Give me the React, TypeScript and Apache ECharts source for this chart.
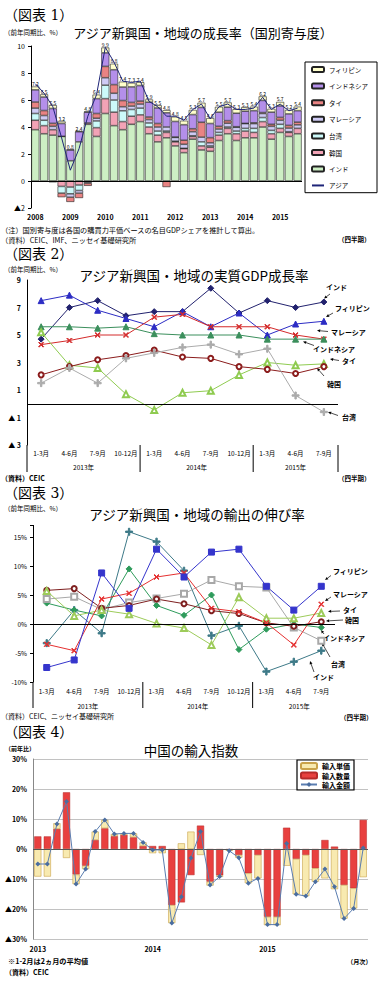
import React, { useEffect, useRef } from 'react';
import * as echarts from 'echarts';

// ---------------- Chart 1 data (quarterly contributions, %pt) ----------------
const years1 = ['2008', '2009', '2010', '2011', '2012', '2013', '2014', '2015'];
const india1 = [3.8, 3.5, 3.4, 3.3, 1.5, 2.9, 4.2, 3.3, 5.0, 4.1, 3.8, 4.2, 4.4, 3.5, 2.9, 3.2, 2.6, 2.1, 3.1, 2.3, 2.2, 3.0, 3.5, 3.0, 3.2, 3.2, 4.0, 3.1, 3.6, 3.3, 3.5];
const korea1 = [0.7, 0.6, 0.4, -0.4, -0.45, -0.3, 0.1, 0.65, 1.1, 1.0, 0.6, 0.6, 0.5, 0.5, 0.5, 0.4, 0.3, 0.3, 0.2, 0.3, 0.3, 0.4, 0.4, 0.5, 0.5, 0.4, 0.4, 0.4, 0.3, 0.3, 0.4];
const taiwan1 = [0.5, 0.4, -0.1, -0.5, -0.5, -0.4, -0.1, 0.5, 1.0, 0.9, 0.8, 0.5, 0.5, 0.3, 0.3, 0.1, 0.05, 0.02, 0.05, 0.3, 0.1, 0.2, 0.1, 0.2, 0.2, 0.3, 0.3, 0.25, 0.3, 0.05, -0.05];
const malaysia1 = [0.4, 0.35, 0.25, 0.01, -0.25, -0.2, -0.07, 0.2, 0.55, 0.5, 0.3, 0.25, 0.3, 0.25, 0.3, 0.3, 0.28, 0.3, 0.3, 0.35, 0.23, 0.25, 0.28, 0.28, 0.35, 0.35, 0.3, 0.3, 0.3, 0.27, 0.26];
const thai1 = [0.45, 0.37, 0.22, -0.3, -0.35, -0.36, -0.19, 0.35, 0.84, 0.64, 0.46, 0.27, 0.22, 0.19, 0.26, -0.45, 0.03, 0.3, 0.22, 1.1, 0.38, 0.2, 0.19, 0.04, 0.02, 0.06, 0.07, 0.15, 0.21, 0.2, 0.2];
const indonesia1 = [0.9, 1.0, 1.1, 0.95, 0.8, 0.75, 0.8, 1.1, 1.0, 1.1, 1.0, 1.15, 1.15, 1.1, 1.15, 1.05, 1.15, 1.15, 1.05, 1.1, 1.05, 1.05, 1.0, 1.0, 0.9, 0.9, 0.9, 0.9, 0.85, 0.85, 0.85];
const phil1 = [0.25, 0.2, 0.25, 0.15, 0.03, 0.05, 0.05, 0.3, 0.4, 0.45, 0.4, 0.3, 0.25, 0.2, 0.2, 0.2, 0.35, 0.3, 0.35, 0.35, 0.4, 0.4, 0.35, 0.3, 0.3, 0.3, 0.3, 0.25, 0.3, 0.3, 0.3];
const asia1 = [7.2, 6.5, 5.5, 3.2, 0.8, 2.4, 4.8, 6.4, 9.9, 8.8, 7.4, 7.3, 7.4, 5.9, 5.5, 4.8, 4.8, 4.5, 5.3, 5.7, 4.6, 5.5, 5.7, 5.3, 5.3, 5.4, 6.2, 5.3, 5.7, 5.2, 5.4];
const legend1 = ['フィリピン', 'インドネシア', 'タイ', 'マレーシア', '台湾', '韓国', 'インド', 'アジア'];

// ---------------- Chart 2 & 3 categories ----------------
const quarterNames = ['1-3月', '4-6月', '7-9月', '10-12月'];
const yearGroups = ['2013年', '2014年', '2015年'];

// ---------------- Chart 2 data (real GDP growth, %) ----------------
const india2 = [4.7, 7.0, 7.5, 6.4, 6.7, 6.7, 8.4, 6.6, 7.5, 7.0, 7.4];
const phil2 = [7.5, 7.9, 6.8, 6.2, 5.6, 6.7, 5.6, 6.6, 5.0, 5.8, 6.0];
const malaysia2 = [4.3, 4.6, 5.0, 5.0, 6.3, 6.5, 5.6, 5.6, 5.6, 5.0, 4.7];
const indonesia2 = [5.6, 5.6, 5.5, 5.6, 5.1, 5.0, 5.0, 5.0, 4.7, 4.7, 4.7];
const thai2 = [5.2, 2.8, 2.6, 0.7, -0.45, 0.8, 0.95, 2.1, 3.0, 2.8, 2.9];
const korea2 = [2.1, 2.7, 3.2, 3.5, 3.9, 3.4, 3.3, 2.7, 2.5, 2.2, 2.7];
const taiwan2 = [1.5, 2.6, 1.5, 3.3, 3.7, 4.1, 4.3, 3.6, 4.0, 0.6, -0.6];

// ---------------- Chart 3 data (export growth, %) ----------------
const phil3 = [-7.5, -6.2, 8.8, 2.7, 12.9, 8.1, 12.4, 12.9, 6.5, 2.4, 6.5];
const malaysia3 = [-3.5, -4.6, 4.3, 5.3, 8.1, 8.8, 2.7, 2.1, 0.2, -3.6, 3.4];
const thai3 = [5.7, 1.4, 2.4, 1.7, 0.1, -0.7, -3.6, 4.6, 1.0, 1.0, 1.9];
const korea3 = [5.8, 6.1, 2.7, 3.2, 4.3, 3.5, 2.3, 1.8, 0.2, -0.4, 0.4];
const taiwan3 = [4.3, 4.7, 2.5, 3.7, 4.4, 5.2, 7.6, 6.5, 6.3, -0.6, -2.9];
const indonesia3 = [3.6, 2.4, 1.4, 9.5, 3.2, 1.5, 5.0, -4.4, -0.9, 0.0, -0.6];
const india3 = [-3.3, 2.4, -1.6, 15.9, 14.2, 9.2, -2.0, -0.3, -8.2, -6.5, -4.6];

// ---------------- Chart 4 data (China import index, y/y %) ----------------
const monthYears = ['2013', '2014', '2015'];
const volume4 = [4.2, 4.2, 6.7, 18.9, -8.5, -5.6, 3.0, 6.9, 4.3, 4.7, 3.9, 1.0, 1.0, 1.0, -18.7, -17.8, -8.7, 7.8, -10.9, -8.8, -0.3, -2.0, -8.1, -2.0, -22.6, -22.6, 7.1, -3.3, -2.0, -6.4, 3.0, 0.8, -12.0, -13.1, 9.7];
const price4 = [-9.2, -9.2, 1.9, -3.0, -3.2, -1.1, 2.8, 2.8, 0.7, 0.5, 1.3, 1.2, -1.4, -1.4, -6.0, 1.9, 5.8, -2.0, -1.3, -0.5, -0.3, -0.9, -3.3, -7.8, -2.8, -2.8, -5.6, -11.8, -13.7, -4.5, -9.8, -13.4, -11.2, -6.7, -9.4];
const value4 = [-5.0, -5.0, 8.3, 15.8, -11.7, -6.7, 5.8, 9.7, 5.0, 5.2, 5.2, 2.2, -0.3, -0.3, -24.7, -15.9, -3.0, 5.8, -12.0, -9.2, -0.6, -2.9, -11.4, -9.8, -25.2, -25.2, 1.8, -15.1, -15.7, -10.9, -6.7, -12.6, -23.2, -19.8, 0.3];
const legend4 = ['輸入単価', '輸入数量', '輸入金額'];

const FONT = "'Noto Sans CJK JP', 'Noto Sans', sans-serif";
const SERIF = "'DejaVu Serif', 'Liberation Serif', 'Noto Sans CJK JP', serif";

const G1 = { left: 31, top: 46, width: 271, height: 162 };
const G2 = { left: 27, top: 280, width: 311, height: 165 };
const G3 = { left: 33, top: 525.4, width: 302, height: 156.6 };
const G4 = { left: 33, top: 759, width: 335, height: 180 };

const XMARK = 'path://M1,0L5,4L9,0L10,1L6,5L10,9L9,10L5,6L1,10L0,9L4,5L0,1Z';
const PLUS = 'path://M4,0H6V4H10V6H6V10H4V6H0V4H4Z';

function txt(text: string, x: number, y: number, size: number, o: any = {}) {
  return {
    type: 'text', x, y, silent: true,
    style: {
      text, fontSize: size, fontFamily: o.family || FONT, fontWeight: o.weight || 'normal',
      fill: '#000', textAlign: o.align || 'left', textVerticalAlign: 'middle',
    },
  };
}

function arrow(x1: number, y1: number, x2: number, y2: number) {
  const dx = x2 - x1, dy = y2 - y1;
  const len = Math.hypot(dx, dy) || 1;
  const ux = dx / len, uy = dy / len;
  const L = 3.2, W = 1.5;
  const bx = x2 - ux * L, by = y2 - uy * L;
  return [
    { type: 'line', silent: true, shape: { x1, y1, x2: bx, y2: by }, style: { stroke: '#000', lineWidth: 0.7 } },
    { type: 'polygon', silent: true, shape: { points: [[x2, y2], [bx - uy * W, by + ux * W], [bx + uy * W, by - ux * W]] }, style: { fill: '#000' } },
  ];
}

function vline(x: number, y1: number, y2: number) {
  return { type: 'line', silent: true, shape: { x1: x, y1, x2: x, y2 }, style: { stroke: '#000', lineWidth: 1 } };
}

function buildOption() {
  const quarters1: string[] = [];
  years1.forEach((y) => [1, 2, 3, 4].forEach((q) => { if (quarters1.length < india1.length) quarters1.push(`${y}Q${q}`); }));
  const periods: string[] = [];
  yearGroups.forEach((y) => quarterNames.forEach((q) => { if (periods.length < india2.length) periods.push(`${y} ${q}`); }));
  const months: string[] = [];
  monthYears.forEach((y) => { for (let m = 1; m <= 12; m++) if (months.length < value4.length) months.push(`${y}/${m}`); });

  const zeroLine = (color: string) => ({
    silent: true, symbol: ['none', 'none'], label: { show: false },
    lineStyle: { color, width: 1, type: 'solid' }, data: [{ yAxis: 0 }],
  });

  const bar1 = (name: string, data: number[], color: string, extra: any = {}) => ({
    type: 'bar', name, data, stack: 'c1', xAxisIndex: 0, yAxisIndex: 0,
    barCategoryGap: '8%',
    itemStyle: { color, borderColor: '#222', borderWidth: 0.6 },
    ...extra,
  });

  const line = (name: string, data: number[], color: string, symbol: string, size: number, ax: number) => ({
    type: 'line', name, data, xAxisIndex: ax, yAxisIndex: ax, symbol, symbolSize: size,
    lineStyle: { color, width: 1 }, itemStyle: { color, borderColor: color, borderWidth: 1 }, z: 3,
  });

  const series: any[] = [
    bar1('インド', india1, '#CDEFC4'),
    bar1('韓国', korea1, '#F2A3B6'),
    bar1('台湾', taiwan1, '#CCFAFA'),
    bar1('マレーシア', malaysia1, '#CFCBF5'),
    bar1('タイ', thai1, '#E98383'),
    bar1('インドネシア', indonesia1, '#B48FEA'),
    bar1('フィリピン', phil1, '#FFFFCC', {
      label: {
        show: true, position: 'top', distance: 0.5, fontSize: 5, color: '#000', fontFamily: FONT,
        formatter: (p: any) => asia1[p.dataIndex].toFixed(1),
      },
    }),
    {
      type: 'line', name: 'アジア', data: asia1, xAxisIndex: 0, yAxisIndex: 0, symbol: 'none',
      lineStyle: { color: '#1E2478', width: 1 }, itemStyle: { color: '#1E2478' }, z: 5,
      markLine: zeroLine('#000'),
    },
    // chart 2
    { ...line('インド', india2, '#22226E', 'diamond', 6, 1), markLine: zeroLine('#000') },
    line('フィリピン', phil2, '#2C2CC4', 'triangle', 6, 1),
    line('マレーシア', malaysia2, '#D42A2A', XMARK, 5, 1),
    line('インドネシア', indonesia2, '#3B8F5C', 'triangle', 6, 1),
    line('タイ', thai2, '#8FCB50', 'emptyTriangle', 6, 1),
    line('韓国', korea2, '#8B1C1C', 'emptyCircle', 5, 1),
    line('台湾', taiwan2, '#ABABAB', PLUS, 7, 1),
    // chart 3
    { ...line('インド', india3, '#3E7A88', PLUS, 7, 2), markLine: zeroLine('#000') },
    line('インドネシア', indonesia3, '#2E9B5B', 'diamond', 6, 2),
    line('台湾', taiwan3, '#A8A8A8', 'emptyRect', 6, 2),
    line('韓国', korea3, '#7E1F1F', 'emptyCircle', 5, 2),
    line('タイ', thai3, '#9DCB5A', 'emptyTriangle', 6, 2),
    line('マレーシア', malaysia3, '#E53030', XMARK, 5, 2),
    line('フィリピン', phil3, '#3535CC', 'rect', 6, 2),
    // chart 4
    {
      type: 'bar', name: '輸入数量', data: volume4, stack: 'c4', xAxisIndex: 3, yAxisIndex: 3,
      barCategoryGap: '25%', itemStyle: { color: '#E8403F', borderColor: '#B52A2A', borderWidth: 0.5 },
    },
    {
      type: 'bar', name: '輸入単価', data: price4, stack: 'c4', xAxisIndex: 3, yAxisIndex: 3,
      barCategoryGap: '25%', itemStyle: { color: '#F8EAB0', borderColor: '#C9A24A', borderWidth: 0.6 },
    },
    {
      type: 'line', name: '輸入金額', data: value4, xAxisIndex: 3, yAxisIndex: 3, symbol: 'diamond', symbolSize: 5,
      lineStyle: { color: '#5A7DB0', width: 1 }, itemStyle: { color: '#4A6DA0' }, z: 5,
      markLine: zeroLine('#555'),
    },
  ];

  const baseLabel = { color: '#000', fontFamily: FONT };
  const xAxis: any[] = [
    {
      type: 'category', gridIndex: 0, data: quarters1, axisLine: { show: false }, axisTick: { show: false },
      axisLabel: { ...baseLabel, interval: 0, fontSize: 7, fontWeight: 'bold', margin: 5, formatter: (v: string) => (v.endsWith('Q1') ? v.slice(0, 4) : '') },
    },
    {
      type: 'category', gridIndex: 1, data: periods, axisLine: { show: false }, axisTick: { show: false },
      axisLabel: { ...baseLabel, interval: 0, fontSize: 6.5, margin: 5, formatter: (v: string) => v.split(' ')[1] },
    },
    {
      type: 'category', gridIndex: 2, data: periods, axisLine: { show: false }, axisTick: { show: false },
      axisLabel: { ...baseLabel, interval: 0, fontSize: 6.5, margin: 6, formatter: (v: string) => v.split(' ')[1] },
    },
    {
      type: 'category', gridIndex: 3, data: months, axisLine: { show: false }, axisTick: { show: false },
      axisLabel: { ...baseLabel, interval: 0, fontSize: 7, fontWeight: 'bold', margin: 6, formatter: (v: string) => (v.endsWith('/1') ? v.split('/')[0] : '') },
    },
  ];
  const yAxis: any[] = [
    {
      type: 'value', gridIndex: 0, min: -2, max: 10, interval: 2,
      axisLine: { show: true, lineStyle: { color: '#000' } }, axisTick: { show: true, length: 3, lineStyle: { color: '#000' } },
      splitLine: { show: false },
      axisLabel: { ...baseLabel, fontSize: 7, margin: 6, formatter: (v: number) => (v < 0 ? '▲' + -v : String(v)) },
    },
    {
      type: 'value', gridIndex: 1, min: -3, max: 9, interval: 1,
      axisLine: { show: true, lineStyle: { color: '#000' } }, axisTick: { show: false }, splitLine: { show: false },
      axisLabel: {
        ...baseLabel, fontSize: 7, fontWeight: 'bold', margin: 6,
        formatter: (v: number) => (Math.abs(v) % 2 === 1 ? (v < 0 ? '▲ ' + -v : String(v)) : ''),
      },
    },
    {
      type: 'value', gridIndex: 2, min: -10, max: 17, interval: 5,
      axisLine: { show: true, lineStyle: { color: '#000' } }, axisTick: { show: true, length: 3, lineStyle: { color: '#000' } },
      splitLine: { show: false },
      axisLabel: { ...baseLabel, fontSize: 6.5, margin: 6, formatter: (v: number) => (v % 5 === 0 ? v + '%' : '') },
    },
    {
      type: 'value', gridIndex: 3, min: -30, max: 30, interval: 10,
      axisLine: { show: true, lineStyle: { color: '#888' } }, axisTick: { show: false },
      splitLine: { show: true, lineStyle: { color: '#C2C2C2', width: 1 } },
      axisLabel: { ...baseLabel, fontSize: 7, fontWeight: 'bold', margin: 6, formatter: (v: number) => (v < 0 ? '▲' + -v + '%' : v + '%') },
    },
  ];

  const b2 = G2.top + G2.height;
  const b3 = G3.top + G3.height;
  const graphic: any[] = [
    // chart 1 texts
    txt('（図表 1）', 4, 15, 14, { family: SERIF }),
    txt('（前年同期比、%）', 4, 31.5, 6.5),
    txt('アジア新興国・地域の成長率（国別寄与度）', 203, 32.5, 13, { align: 'center' }),
    txt('（注）国別寄与度は各国の購買力平価ベースの名目GDPシェアを推計して算出。', 1, 230, 7.2),
    txt('（資料）CEIC、IMF、ニッセイ基礎研究所', 1, 240, 7.2),
    txt('（四半期）', 338, 239, 6.5, { weight: 'bold' }),
    // chart 2 texts
    txt('（図表 2）', 4, 254, 14, { family: SERIF }),
    txt('（前年同期比、%）', 4, 268.5, 6.5),
    txt('アジア新興国・地域の実質GDP成長率', 194, 274.5, 13.5, { align: 'center' }),
    txt('2013年', G2.left + (2 * G2.width) / 11, 467, 6.5, { align: 'center' }),
    txt('2014年', G2.left + (6 * G2.width) / 11, 467, 6.5, { align: 'center' }),
    txt('2015年', G2.left + (9.5 * G2.width) / 11, 467, 6.5, { align: 'center' }),
    vline(G2.left, b2, b2 + 27),
    vline(G2.left + (4 * G2.width) / 11, b2, b2 + 27),
    vline(G2.left + (8 * G2.width) / 11, b2, b2 + 27),
    vline(G2.left + G2.width, b2, b2 + 27),
    txt('（資料）CEIC', 1, 478, 7, { weight: 'bold' }),
    txt('（四半期）', 338, 478, 6.5, { weight: 'bold' }),
    txt('インド', 326, 286.5, 7, { weight: 'bold' }),
    ...arrow(330, 294, 324, 298.5),
    txt('フィリピン', 335, 308, 7, { weight: 'bold' }),
    ...arrow(333, 313, 326, 317),
    txt('マレーシア', 331, 332, 7, { weight: 'bold' }),
    ...arrow(328, 331.5, 317, 330.5),
    txt('インドネシア', 313, 348.5, 7, { weight: 'bold' }),
    ...arrow(314, 345.5, 303, 341.5),
    txt('タイ', 342, 361, 7, { weight: 'bold' }),
    ...arrow(339, 360.5, 330, 359),
    txt('韓国', 327, 383.5, 7, { weight: 'bold' }),
    ...arrow(324, 376, 317, 368),
    txt('台湾', 342, 417, 7, { weight: 'bold' }),
    ...arrow(338, 415.5, 328, 412),
    // chart 3 texts
    txt('（図表 3）', 4, 493, 14, { family: SERIF }),
    txt('（前年同期比、%）', 4, 508, 6.5),
    txt('アジア新興国・地域の輸出の伸び率', 197, 513.5, 13.5, { align: 'center' }),
    txt('2013年', G3.left + (2 * G3.width) / 11, 706, 6.5, { align: 'center' }),
    txt('2014年', G3.left + (6 * G3.width) / 11, 706, 6.5, { align: 'center' }),
    txt('2015年', G3.left + (9.7 * G3.width) / 11, 706, 6.5, { align: 'center' }),
    vline(G3.left, b3, b3 + 26),
    vline(G3.left + (4 * G3.width) / 11, b3, b3 + 26),
    vline(G3.left + (8 * G3.width) / 11, b3, b3 + 26),
    txt('フィリピン', 333, 571, 7, { weight: 'bold' }),
    ...arrow(331, 575.5, 325, 580),
    txt('マレーシア', 333, 594, 7, { weight: 'bold' }),
    ...arrow(331, 597, 325, 601),
    txt('タイ', 343, 609.5, 7, { weight: 'bold' }),
    ...arrow(340, 611, 328, 611.5),
    txt('韓国', 345, 620, 7, { weight: 'bold' }),
    ...arrow(343, 620, 326, 621),
    txt('インドネシア', 323, 637.5, 7, { weight: 'bold' }),
    ...arrow(324, 634, 321, 630),
    txt('台湾', 331, 663.5, 7, { weight: 'bold' }),
    ...arrow(330, 657, 322, 643),
    txt('インド', 313, 677, 7, { weight: 'bold' }),
    ...arrow(314, 672, 310, 661),
    txt('（資料）CEIC、ニッセイ基礎研究所', 1, 716, 7),
    txt('（四半期）', 340, 717, 6.5, { weight: 'bold' }),
    // chart 4 texts
    txt('（図表 4）', 4, 732, 14, { family: SERIF }),
    txt('（前年比）', 5, 748, 6, { weight: 'bold' }),
    txt('中国の輸入指数', 191, 749.5, 13.5, { align: 'center' }),
    txt('※1-2月は2ヵ月の平均値', 8, 961, 7.2, { weight: 'bold' }),
    txt('（資料）CEIC', 5, 972, 7, { weight: 'bold' }),
    txt('（月次）', 347, 961, 6.2, { weight: 'bold' }),
  ];

  const legend1Data = legend1.map((n) => (n === 'アジア' ? { name: n, itemStyle: { opacity: 0 } } : { name: n }));

  return {
    animation: false,
    backgroundColor: '#fff',
    textStyle: { fontFamily: FONT },
    grid: [G1, G2, G3, G4].map((g) => ({ ...g, containLabel: false })),
    xAxis,
    yAxis,
    legend: [
      {
        orient: 'vertical', left: 305, top: 62, data: legend1Data, itemWidth: 12, itemHeight: 5, itemGap: 9.6,
        padding: [4, 9, 4, 6], borderColor: '#000', borderWidth: 1, selectedMode: false,
        textStyle: { fontSize: 6.5, fontFamily: FONT, color: '#000' },
      },
      {
        orient: 'vertical', left: 297, top: 760, data: legend4, itemWidth: 16, itemHeight: 6, itemGap: 1.5,
        padding: [2, 4, 2, 3], borderColor: '#000', borderWidth: 1.2, selectedMode: false,
        textStyle: { fontSize: 7, fontWeight: 'bold', fontFamily: FONT, color: '#000' },
      },
    ],
    series,
    graphic,
  };
}

export default function App() {
  const ref = useRef<HTMLDivElement>(null);
  useEffect(() => {
    document.body.style.margin = '0';
    if (!ref.current) return;
    const chart = echarts.init(ref.current, undefined, { renderer: 'svg' });
    chart.setOption(buildOption() as any);
    return () => chart.dispose();
  }, []);
  return <div ref={ref} style={{ position: 'absolute', left: 0, top: 0, width: 392, height: 989, background: '#fff' }} />;
}
